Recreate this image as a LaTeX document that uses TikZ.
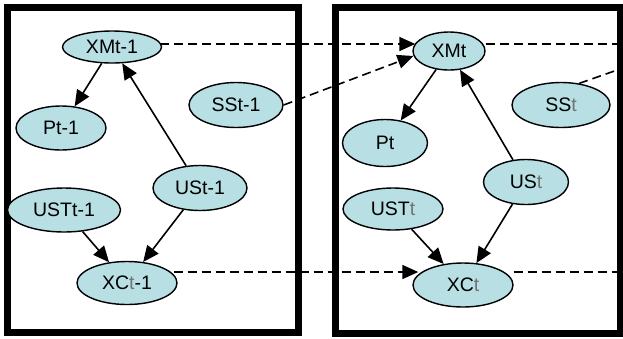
\documentclass[tikz,border=0pt]{standalone}
\usepackage{fontspec}
\setmainfont{Liberation Sans}
\usetikzlibrary{shapes.geometric}
\usetikzlibrary{arrows.meta}
\definecolor{varblue}{RGB}{183,223,228}
\newcommand{\lightt}{\textcolor{black!55}{t}}

\begin{document}
\begin{tikzpicture}[x=1pt,y=-1pt,
    var/.style={ellipse, draw, fill=varblue, line width=1.4pt, inner sep=0pt,
        font=\fontsize{19.5}{22}\selectfont},
    tip/.style={-{Triangle[length=16pt,width=14pt]}},
    link/.style={line width=1.6pt, tip},
    carry/.style={line width=1.6pt, dash pattern=on 9pt off 5pt},
    slice/.style={draw, line width=7pt}]
        \useasboundingbox (0,0) rectangle (623,338);

        % time slices
        \draw[slice] (7,7) rectangle (298,332);
        \draw[slice] (335,7) rectangle (620,333);

        % slice t-1
        \node[var, minimum width=99pt, minimum height=32pt] (xm1) at (112,47) {XMt-1};
        \node[var, minimum width=90pt, minimum height=44pt] (p1) at (61,128) {Pt-1};
        \node[var, minimum width=94pt, minimum height=45pt] (ss1) at (236,105) {SSt-1};
        \node[var, minimum width=94pt, minimum height=45pt] (us1) at (200,188) {USt-1};
        \node[var, minimum width=113pt, minimum height=44pt] (ust1) at (64,210) {USTt-1};
        \node[var, minimum width=100pt, minimum height=43pt] (xc1) at (127,283) {XC\lightt-1};

        % slice t
        \node[var, minimum width=72pt, minimum height=38pt] (xm) at (449,51) {XMt};
        \node[var, minimum width=85pt, minimum height=47pt] (p) at (385,143) {Pt};
        \node[var, minimum width=98pt, minimum height=45pt] (ss) at (561,105) {SS\lightt};
        \node[var, minimum width=85pt, minimum height=45pt] (us) at (526,182) {US\lightt};
        \node[var, minimum width=100pt, minimum height=42pt] (ust) at (393,209) {UST\lightt};
        \node[var, minimum width=100pt, minimum height=44pt] (xc) at (463,285) {XC\lightt};

        % free ends on the right edge
        \coordinate (outxm) at (623,44);
        \coordinate (outss) at (623,68);
        \coordinate (outxc) at (623,272);

        % arcs inside a slice
        \draw[link] (xm1) -- (p1);
        \draw[link] (us1) -- (xm1);
        \draw[link] (us1) -- (xc1);
        \draw[link] (ust1) -- (xc1);
        \draw[link] (xm) -- (p);
        \draw[link] (us) -- (xm);
        \draw[link] (us) -- (xc);
        \draw[link] (ust) -- (xc);

        % arcs between slices
        \draw[carry, tip, shorten <=-2pt, shorten >=-3pt] (xm1.east |- outxm) -- (xm.west |- outxm);
        \draw[carry, tip] (ss1.east) -- (xm.188);
        \draw[carry, tip, shorten <=-4pt, shorten >=-6pt] (xc1.east |- outxc) -- (xc.west |- outxc);
        \draw[carry] (xm.east |- outxm) -- (outxm);
        \draw[carry] (ss.50) -- (outss);
        \draw[carry] (xc.east |- outxc) -- (outxc);
\end{tikzpicture}
\end{document}
